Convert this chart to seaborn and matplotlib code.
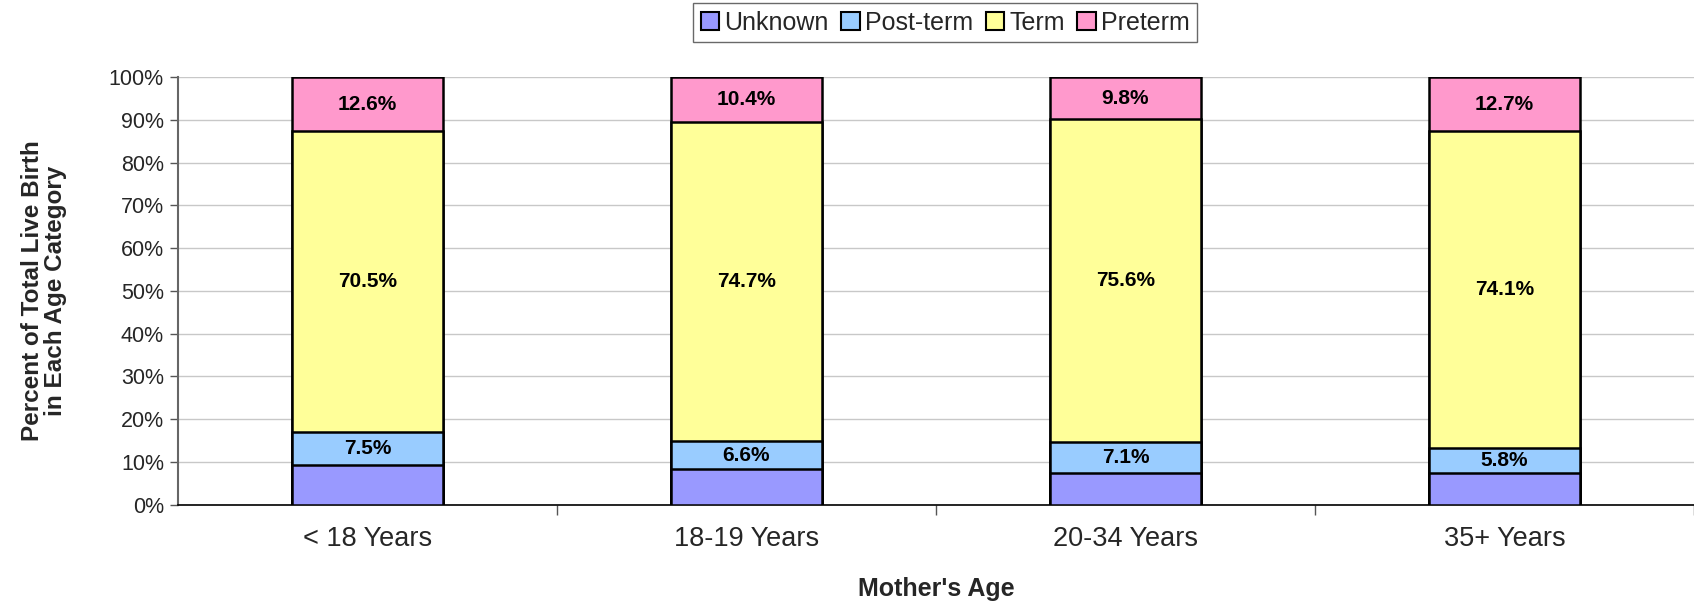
import matplotlib
matplotlib.use("Agg")
import matplotlib.pyplot as plt
import seaborn as sns
import numpy as np
import pandas as pd
from matplotlib.patches import Patch

categories = ["< 18 Years", "18-19 Years", "20-34 Years", "35+ Years"]
unknown = [9.4, 8.3, 7.5, 7.4]
post_term = [7.5, 6.6, 7.1, 5.8]
term = [70.5, 74.7, 75.6, 74.1]
preterm = [12.6, 10.4, 9.8, 12.7]
series_names = ["Unknown", "Post-term", "Term", "Preterm"]
colors = ["#9999FF", "#99CCFF", "#FFFF99", "#FF99CC"]
yticklabels = ["0%", "10%", "20%", "30%", "40%", "50%", "60%", "70%", "80%", "90%", "100%"]

sns.set_theme(style="white")
plt.rcParams['font.family'] = ['Liberation Sans', 'DejaVu Sans']

fig = plt.figure(figsize=(16.94, 6.03), dpi=100)
ax = fig.add_axes([0.105, 0.163, 0.895, 0.709])

layers = [unknown, post_term, term, preterm]
cum = np.cumsum(np.array(layers), axis=0)
bottoms = np.vstack([np.zeros(len(categories)), cum[:-1]])

# draw from top layer down so that lower layers overlay
for i in range(len(layers) - 1, -1, -1):
    df = pd.DataFrame({"cat": categories, "val": cum[i]})
    sns.barplot(data=df, x="cat", y="val", color=colors[i], saturation=1,
                width=0.4, edgecolor="black", linewidth=1.8, ax=ax, zorder=3)

# value labels (all except Unknown)
for i in range(1, len(layers)):
    for j in range(len(categories)):
        ymid = bottoms[i][j] + layers[i][j] / 2
        ax.text(j, ymid, f"{layers[i][j]:.1f}%", ha="center", va="center",
                fontsize=15, fontweight="bold", color="black", zorder=5)

ax.set_ylim(0, 100)
ax.set_xlim(-0.5, 3.5)
ax.set_yticks(np.arange(0, 101, 10))
ax.set_yticklabels(yticklabels, fontsize=15.5)
ax.yaxis.grid(True, color="#c8c8c8", linewidth=1.0, zorder=0)
ax.set_axisbelow(True)

ax.set_xticks(range(len(categories)))
ax.set_xticklabels(categories, fontsize=19.5)
ax.tick_params(axis="x", length=0, pad=15)
ax.set_xticks([0.5, 1.5, 2.5, 3.5], minor=True)
ax.tick_params(axis="x", which="minor", length=7, width=1, color="#555555", direction="out", bottom=True)
ax.tick_params(axis="y", length=6, width=1, color="#555555", direction="out", left=True, pad=4)

for s in ["top", "right"]:
    ax.spines[s].set_visible(False)
ax.spines["left"].set_color("#666666")
ax.spines["left"].set_linewidth(1.5)
ax.spines["bottom"].set_color("black")
ax.spines["bottom"].set_linewidth(1.2)

ax.set_xlabel("Mother's Age", fontsize=18, fontweight="bold")
ax.xaxis.set_label_coords(0.5, -0.168)
ax.set_ylabel("Percent of Total Live Birth\nin Each Age Category", fontsize=17.5,
              fontweight="bold", linespacing=1.0)
ax.yaxis.set_label_coords(-0.073, 0.5)

handles = [Patch(facecolor=c, edgecolor="black", linewidth=1.5) for c in colors]
leg = fig.legend(handles, series_names, loc="center", bbox_to_anchor=(0.558, 0.962),
                 ncol=4, frameon=True, fontsize=18, handlelength=0.75, handleheight=0.75,
                 handletextpad=0.2, columnspacing=0.5, borderpad=0.3, fancybox=False)
leg.get_frame().set_edgecolor("#444444")
leg.get_frame().set_linewidth(1.0)

fig.savefig("out.png", dpi=100)
